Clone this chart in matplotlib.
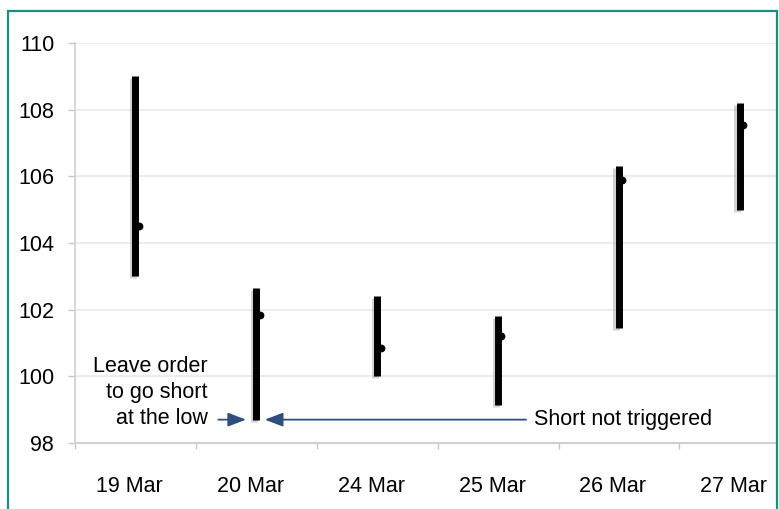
"""
Gráfico de barras high-low (estilo OHLC simplificado) com ordem de venda no mínimo.
"""

import matplotlib
matplotlib.use("Agg")
import matplotlib.pyplot as plt
import matplotlib.patheffects as pe
import matplotlib.transforms as mtransforms
from matplotlib.patches import Rectangle

plt.rcParams["font.family"] = ["Liberation Sans", "DejaVu Sans"]

DATES  = ["19 Mar", "20 Mar", "24 Mar", "25 Mar", "26 Mar", "27 Mar"]
HIGHS  = [109.0, 102.65, 102.4, 101.8, 106.3, 108.2]
LOWS   = [103.0, 98.7, 100.0, 99.15, 101.45, 105.0]
CLOSES = [104.5, 101.85, 100.85, 101.2, 105.9, 107.55]
Y_TICKS = [98, 100, 102, 104, 106, 108, 110]

BAR_COLOR   = "black"
ARROW_COLOR = "#2f4f7f"
FRAME_COLOR = "#1f8c84"
GRID_COLOR  = "#ececec"
FONT_SIZE   = 15.5


def main():
    fig = plt.figure(figsize=(7.79, 5.09), dpi=100)
    ax = fig.add_axes([0.0963, 0.1297, 0.9, 0.7858])

    x = list(range(len(DATES)))
    shadow = [pe.SimpleLineShadow(offset=(-1.8, -1.5), shadow_color="gray", alpha=0.35),
              pe.Normal()]
    for i in x:
        ax.plot([i, i], [LOWS[i], HIGHS[i]], color=BAR_COLOR, lw=5,
                solid_capstyle="butt", zorder=3, path_effects=shadow)
        ax.plot(i + 0.028, CLOSES[i], marker="o", ms=4.6, color=BAR_COLOR,
                zorder=4)

    ax.set_yticks(Y_TICKS)
    ax.set_yticklabels([str(t) for t in Y_TICKS], fontsize=FONT_SIZE)
    ax.set_xticks([i + 0.5 for i in range(-1, len(DATES) - 1)])
    ax.set_xticklabels([])
    ax.set_xticks(x, minor=True)
    ax.set_xticklabels(DATES, minor=True, fontsize=FONT_SIZE)
    ax.set_xlim(-0.5, 5.3)
    ax.set_ylim(98, 110)
    ax.tick_params(axis="x", which="minor", length=0, pad=24)
    ax.tick_params(axis="x", which="major", length=4, width=1, color="#c8c8c8")
    ax.tick_params(axis="y", length=5, width=1, color="#c8c8c8", pad=10)

    # date labels sit a little left of the bars
    shift = mtransforms.ScaledTranslation(-6 / 100, 0, fig.dpi_scale_trans)
    for lbl in ax.get_xticklabels(minor=True):
        lbl.set_transform(lbl.get_transform() + shift)

    ax.grid(axis="y", color=GRID_COLOR, lw=1.5, zorder=0)
    ax.set_axisbelow(True)
    for side in ("top", "right"):
        ax.spines[side].set_visible(False)
    ax.spines["left"].set_color("#d0d0d0")
    ax.spines["bottom"].set_color("#d0d0d0")
    ax.spines["left"].set_linewidth(1.2)
    ax.spines["bottom"].set_linewidth(1.5)

    # annotations
    ax.text(0.595, 99.52, "Leave order\nto go short\nat the low", ha="right",
            va="center", multialignment="right", fontsize=FONT_SIZE,
            linespacing=1.3)
    head = "-|>,head_length=1.1,head_width=0.42"
    ax.annotate("", xy=(0.915, LOWS[1]), xytext=(0.686, LOWS[1]),
                arrowprops=dict(arrowstyle=head, color=ARROW_COLOR, lw=1.3,
                                shrinkA=0, shrinkB=0))
    ax.annotate("", xy=(1.07, LOWS[1]), xytext=(3.231, LOWS[1]),
                arrowprops=dict(arrowstyle=head, color=ARROW_COLOR, lw=1.3,
                                shrinkA=0, shrinkB=0))
    ax.text(3.30, LOWS[1], "Short not triggered", ha="left", va="center",
            fontsize=FONT_SIZE)

    frame = Rectangle((8 / 779, -0.05), 769 / 779, 1 - 11 / 509 + 0.05,
                      transform=fig.transFigure, fill=False,
                      edgecolor=FRAME_COLOR, lw=1.6, clip_on=False)
    fig.patches.append(frame)

    fig.savefig("out.png", dpi=100)
    plt.close(fig)


if __name__ == "__main__":
    main()
